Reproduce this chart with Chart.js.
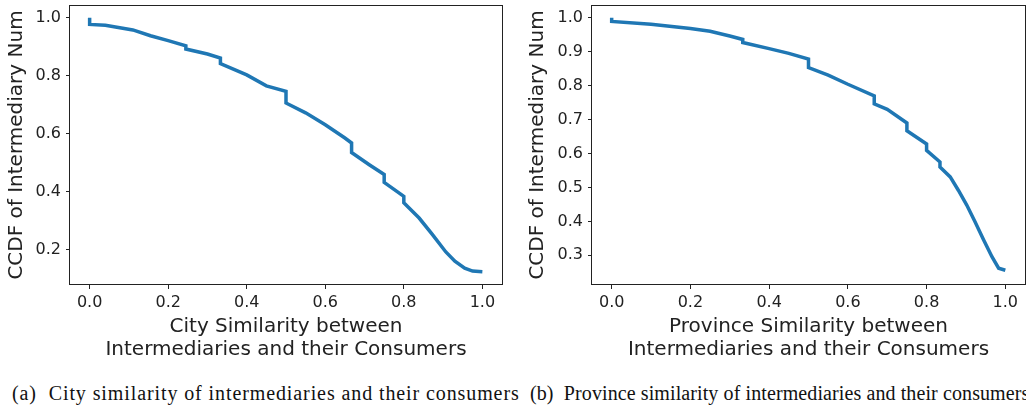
<!DOCTYPE html>
<html>
<head>
<meta charset="utf-8">
<script src="https://cdn.jsdelivr.net/npm/chart.js@4.4.0/dist/chart.umd.min.js"></script>
<style>
  body { margin: 0; background: #fff; width: 1026px; height: 405px; overflow: hidden; position: relative; }
  .box { position: absolute; top: 0; }
  .cap { position: absolute; top: 382px; font-family: "Liberation Serif", "DejaVu Serif", serif; font-size: 20px; letter-spacing: 0.9px; color: #111; white-space: nowrap; }
</style>
</head>
<body>
<div class="box" style="left:0px"><canvas id="chartA" width="510" height="365"></canvas></div>
<div class="box" style="left:510px"><canvas id="chartB" width="516" height="365"></canvas></div>
<div class="cap" style="left:12px">(a)&nbsp; City similarity of intermediaries and their consumers</div>
<div class="cap" style="left:530px; letter-spacing:0.1px">(b)&nbsp; Province similarity of intermediaries and their consumers</div>
<script>
// city similarity CCDF
var cityX = [0, 0, 0.04, 0.11, 0.155, 0.2, 0.245, 0.245, 0.3, 0.333, 0.333, 0.4, 0.45, 0.5, 0.5, 0.55, 0.6, 0.65, 0.667, 0.667, 0.712, 0.75, 0.75, 0.8, 0.8, 0.839, 0.873, 0.907, 0.93, 0.955, 0.975, 1.0];
var cityY = [1.0, 0.977, 0.974, 0.958, 0.938, 0.921, 0.903, 0.892, 0.875, 0.861, 0.842, 0.803, 0.765, 0.746, 0.706, 0.672, 0.631, 0.585, 0.568, 0.535, 0.493, 0.459, 0.432, 0.384, 0.362, 0.309, 0.252, 0.192, 0.16, 0.136, 0.126, 0.124];

// province similarity CCDF
var provX = [0, 0, 0.1, 0.2, 0.25, 0.3, 0.333, 0.333, 0.4, 0.45, 0.5, 0.5, 0.55, 0.6, 0.667, 0.667, 0.7, 0.75, 0.75, 0.8, 0.8, 0.834, 0.834, 0.86, 0.881, 0.902, 0.923, 0.945, 0.966, 0.983, 1.0];
var provY = [1.0, 0.989, 0.981, 0.968, 0.96, 0.946, 0.936, 0.927, 0.909, 0.895, 0.878, 0.853, 0.831, 0.804, 0.77, 0.746, 0.73, 0.69, 0.667, 0.628, 0.609, 0.575, 0.56, 0.531, 0.491, 0.448, 0.399, 0.345, 0.296, 0.262, 0.256];

var xTicks = [0, 0.2, 0.4, 0.6, 0.8, 1.0];
var cityYTicks = [0.2, 0.4, 0.6, 0.8, 1.0];
var provYTicks = [0.3, 0.4, 0.5, 0.6, 0.7, 0.8, 0.9, 1.0];

var yTitle = 'CCDF of Intermediary Num';
var cityXTitle = ['City Similarity between', 'Intermediaries and their Consumers'];
var provXTitle = ['Province Similarity between', 'Intermediaries and their Consumers'];

var inkColor = '#222';
var frame = {
  id: 'frame',
  afterDraw: function(chart) {
    var a = chart.chartArea, c = chart.ctx;
    c.save();
    c.strokeStyle = inkColor;
    c.lineWidth = 1;
    c.strokeRect(Math.round(a.left) - 0.5, Math.round(a.top) + 0.5, Math.round(a.right - a.left) + 1, Math.round(a.bottom - a.top) - 1);
    c.restore();
  }
};

function makeChart(id, xs, ys, yTicks, yMin, yMax, xTitle, yAxisWidth, yTitlePad, padRight) {
  var pts = [];
  for (var i = 0; i < xs.length; i++) pts.push({x: xs[i], y: ys[i]});
  var ctx = document.getElementById(id).getContext('2d');
  return new Chart(ctx, {
    type: 'line',
    data: {
      datasets: [{
        data: pts,
        borderColor: '#1f77b4',
        borderWidth: 3.5,
        pointRadius: 0,
        tension: 0,
        fill: false
      }]
    },
    options: {
      responsive: false,
      animation: false,
      layout: { padding: { top: 5, right: padRight, left: 0, bottom: 0 } },
      plugins: { legend: { display: false }, tooltip: { enabled: false } },
      scales: {
        x: {
          type: 'linear',
          min: -0.05,
          max: 1.05,
          afterBuildTicks: function(s) { s.ticks = xTicks.map(function(v) { return {value: v}; }); },
          afterFit: function(s) { s.height = 80; s.paddingLeft = 0; s.paddingRight = 0; },
          grid: { drawOnChartArea: false, drawTicks: true, tickLength: 4, color: inkColor },
          border: { display: false },
          ticks: {
            padding: 4,
            color: inkColor,
            font: { family: 'DejaVu Sans', size: 16 },
            callback: function(v) { return v.toFixed(1); }
          },
          title: {
            display: true,
            text: xTitle,
            color: inkColor,
            font: { family: 'DejaVu Sans', size: 20, lineHeight: 1.15 },
            padding: { top: 0, bottom: 4 }
          }
        },
        y: {
          min: yMin,
          max: yMax,
          afterBuildTicks: function(s) { s.ticks = yTicks.map(function(v) { return {value: v}; }); },
          afterFit: function(s) { s.width = yAxisWidth; s.paddingTop = 0; s.paddingBottom = 0; },
          grid: { drawOnChartArea: false, drawTicks: true, tickLength: 4, color: inkColor },
          border: { display: false },
          ticks: {
            padding: 5,
            color: inkColor,
            font: { family: 'DejaVu Sans', size: 16 },
            callback: function(v) { return v.toFixed(1); }
          },
          title: {
            display: true,
            text: yTitle,
            color: inkColor,
            font: { family: 'DejaVu Sans', size: 20, lineHeight: 1.15 },
            padding: { top: yTitlePad, bottom: 0 }
          }
        }
      }
    },
    plugins: [frame]
  });
}

makeChart('chartA', cityX, cityY, cityYTicks, 0.078, 1.044, cityXTitle, 70, 5, 8);
makeChart('chartB', provX, provY, provYTicks, 0.2125, 1.0375, provXTitle, 82, 16, 1);
</script>
</body>
</html>
